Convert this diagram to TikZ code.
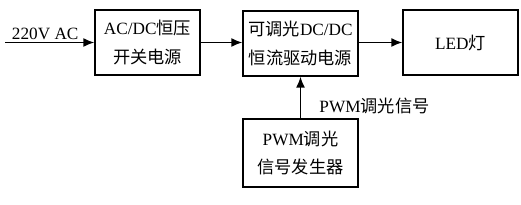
\documentclass[tikz,border=0pt]{standalone}
\usepackage{fontspec}
\setmainfont{Liberation Serif}
\newfontfamily\cjk{Noto Sans CJK SC}
\usepackage{tikz}
\usetikzlibrary{arrows.meta, positioning}

\begin{document}
\begin{tikzpicture}[
    block/.style={draw, rectangle, align=center, line width=0.8pt,
                  minimum height=13mm, inner sep=1pt,
                  font=\fontsize{9.8}{16}\selectfont},
    arrow/.style={-{Latex[length=2.2mm, width=1.8mm]}, line width=0.8pt},
    lbl/.style={font=\fontsize{9.8}{12}\selectfont, inner sep=1pt}
  ]
    \useasboundingbox (0,0) rectangle (10.42,-4.1);

    \node[block, minimum width=21mm] (acdc) at (2.95,-0.85) {AC/DC{\cjk 恒压}\\{\cjk 开关电源}};
    \node[block, minimum width=23mm] (drv)  at (6.01,-0.87) {{\cjk 可调光}DC/DC\\{\cjk 恒流驱动电源}};
    \node[block, minimum width=23mm] (led)  at (9.21,-0.85) {LED{\cjk 灯}};
    \node[block, minimum width=23mm, minimum height=13.6mm] (pwm) at (6.01,-3.06) {PWM{\cjk 调光}\\{\cjk 信号发生器}};

    \coordinate (ac) at (0.1,-0.85);

    \draw[arrow] (ac) -- node[lbl, above, pos=0.45] {220V AC} (acdc.west);
    \draw[arrow] (acdc.east) -- (drv.west |- acdc.east);
    \draw[arrow] (drv.east |- led.west) -- (led.west);
    \draw[arrow] (pwm.north) -- node[lbl, right=3.3mm, pos=0.3] {PWM{\cjk 调光信号}} (drv.south);
  \end{tikzpicture}
\end{document}
